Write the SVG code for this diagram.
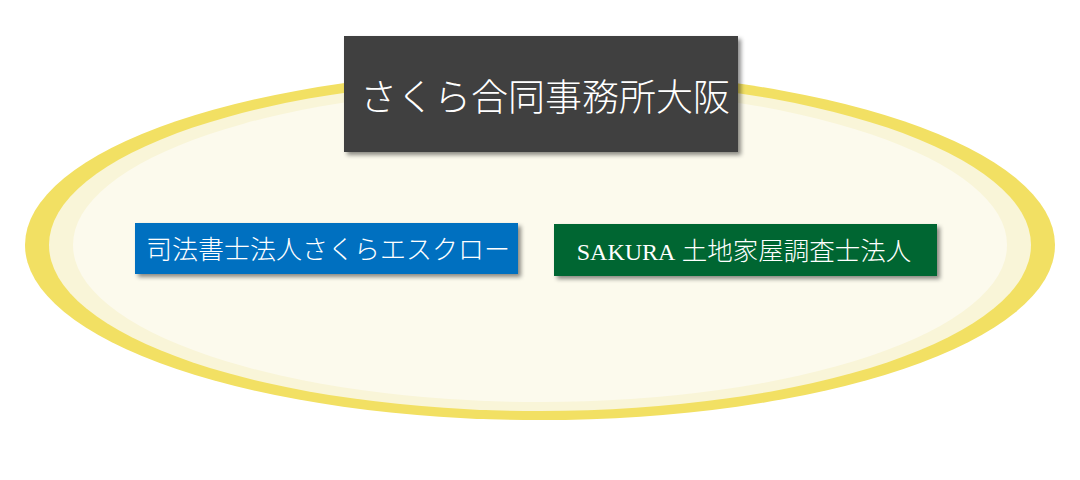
<svg xmlns="http://www.w3.org/2000/svg" width="1080" height="480" viewBox="0 0 1080 480">
  <defs>
    <filter id="shadow" x="-10%" y="-20%" width="125%" height="150%">
      <feDropShadow dx="3" dy="3" stdDeviation="2" flood-color="#000" flood-opacity="0.45"/>
    </filter>
    <style>
      .lbl { fill: #ffffff; font-family: "Liberation Serif", "Noto Sans CJK JP", serif; font-weight: 300; text-anchor: middle; }
    </style>
  </defs>
  <rect width="1080" height="480" fill="#ffffff"/>
  <g id="ellipse">
    <ellipse cx="540" cy="245" rx="515" ry="175" fill="#F2E063"/>
    <ellipse cx="540" cy="245" rx="491" ry="166" fill="#F9F5D8"/>
    <ellipse cx="540" cy="245" rx="467" ry="157" fill="#FCFAED"/>
  </g>
  <g id="connectors"></g>
  <g id="node-osaka">
    <rect x="344" y="36" width="394" height="116" fill="#404040" filter="url(#shadow)"/>
    <text class="lbl" x="545" y="111" font-size="37">さくら合同事務所大阪</text>
  </g>
  <g id="node-escrow">
    <rect x="135" y="223" width="383" height="51" fill="#0070C0" filter="url(#shadow)"/>
    <text class="lbl" x="328" y="259" font-size="26">司法書士法人さくらエスクロー</text>
  </g>
  <g id="node-chichi">
    <rect x="554" y="224" width="383" height="52" fill="#006633" filter="url(#shadow)"/>
    <text class="lbl" x="744" y="260" font-size="25.5"><tspan font-size="24">SAKURA</tspan> 土地家屋調査士法人</text>
  </g>
</svg>
